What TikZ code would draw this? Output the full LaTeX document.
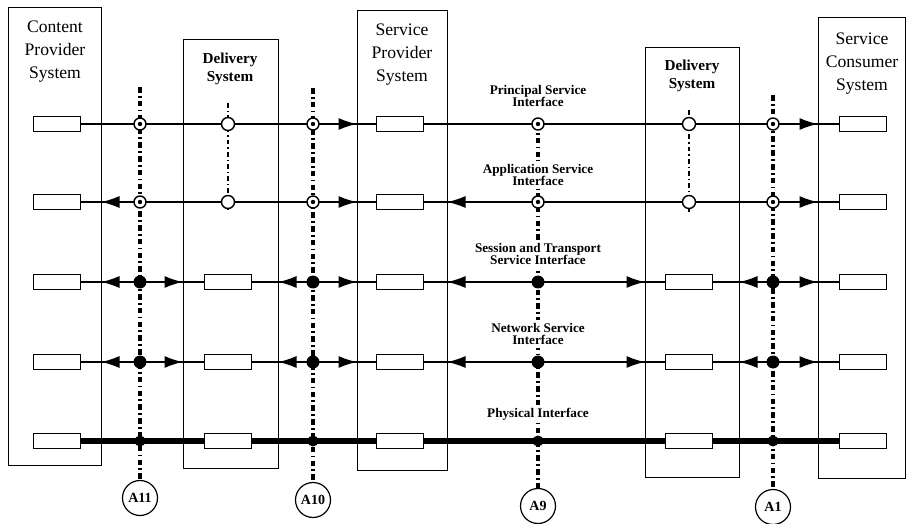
\documentclass[tikz,border=0pt]{standalone}
\usepackage{fontspec}
\setmainfont{Liberation Serif}
\usepackage{tikz}
\usetikzlibrary{arrows.meta}
\pgfdeclarelayer{edgelayer}
\pgfdeclarelayer{nodelayer}
\pgfsetlayers{edgelayer,nodelayer,main}
\tikzset{
  sysbox/.style={draw, line width=0.5pt, inner sep=0pt},
  title/.style={align=center, font=\fontsize{8.8}{11.5}\selectfont},
  dtitle/.style={align=center, font=\bfseries\fontsize{7.6}{9}\selectfont},
  unit/.style={draw, fill=white, line width=0.55pt, minimum width=23.5pt, minimum height=7.5pt, inner sep=0pt},
  sap/.style={circle, draw, fill=white, line width=0.7pt, minimum size=6pt, inner sep=0pt,
    path picture={\fill[black] (path picture bounding box.center) circle (1.1pt);}},
  relay/.style={circle, draw, fill=white, line width=0.7pt, minimum size=6.5pt, inner sep=0pt},
  joint/.style={circle, fill, minimum size=6.5pt, inner sep=0pt},
  phys/.style={circle, fill, minimum size=5.5pt, inner sep=0pt},
  iface/.style={align=center, fill=white, inner sep=1.5pt, font=\bfseries\fontsize{6.6}{6.4}\selectfont},
  tag/.style={circle, draw, line width=0.6pt, minimum size=17.5pt, inner sep=0pt, font=\bfseries\fontsize{7}{8}\selectfont},
  link/.style={line width=0.6pt},
  bus/.style={line width=2.6pt},
  tip/.style={-{Latex[length=9pt,width=6pt]}},
  tips/.style={{Latex[length=9pt,width=6pt]}-{Latex[length=9pt,width=6pt]}},
  aline/.style={line width=1.8pt, dash pattern=on 2.8pt off 1.6pt on 0.9pt off 1.6pt},
  dline/.style={line width=1.1pt, dash pattern=on 2.4pt off 1.5pt on 0.7pt off 1.5pt}
}

\begin{document}
\begin{tikzpicture}[x=0.5pt, y=-0.5pt]
  \useasboundingbox (0,0) rectangle (906,524);
  % nodes
	\node [sysbox, minimum width=46.5pt, minimum height=228.5pt] (0) at (54.5, 236.5) {};
	\node [sysbox, minimum width=47.5pt, minimum height=214pt] (1) at (230.5, 254) {};
	\node [sysbox, minimum width=45pt, minimum height=229.5pt] (2) at (402, 240.5) {};
	\node [sysbox, minimum width=47pt, minimum height=214.5pt] (3) at (692, 262.5) {};
	\node [sysbox, minimum width=43.5pt, minimum height=230pt] (4) at (861.5, 248) {};
	\node [title] (5) at (55, 52) {Content\\Provider\\System};
	\node [dtitle] (6) at (230, 69) {Delivery\\System};
	\node [title] (7) at (402, 55) {Service\\Provider\\System};
	\node [dtitle] (8) at (692, 76) {Delivery\\System};
	\node [title] (9) at (862, 64) {Service\\Consumer\\System};
	%% content provider units
	\node [unit] (10) at (57, 124) {};
	\node [unit] (11) at (57, 202) {};
	\node [unit] (12) at (57, 282) {};
	\node [unit] (13) at (57, 362) {};
	\node [unit] (14) at (57, 441) {};
	%% delivery units
	\node [unit] (15) at (228, 282) {};
	\node [unit] (16) at (228, 362) {};
	\node [unit] (17) at (228, 441) {};
	%% service provider units
	\node [unit] (18) at (400, 124) {};
	\node [unit] (19) at (400, 202) {};
	\node [unit] (20) at (400, 282) {};
	\node [unit] (21) at (400, 362) {};
	\node [unit] (22) at (400, 441) {};
	%% delivery units
	\node [unit] (23) at (689, 282) {};
	\node [unit] (24) at (689, 362) {};
	\node [unit] (25) at (689, 441) {};
	%% service consumer units
	\node [unit] (26) at (863, 124) {};
	\node [unit] (27) at (863, 202) {};
	\node [unit] (28) at (863, 282) {};
	\node [unit] (29) at (863, 362) {};
	\node [unit] (30) at (863, 441) {};
	%% interfaces
	\node [iface] (31) at (538, 96) {Principal Service\\Interface};
	\node [iface] (32) at (538, 175) {Application Service\\Interface};
	\node [iface] (33) at (538, 254) {Session and Transport\\Service Interface};
	\node [iface] (34) at (538, 334) {Network Service\\Interface};
	\node [iface] (35) at (538, 414) {Physical Interface};
	%% reference points
	\node [tag] (36) at (140, 498) {A11};
	\node [tag] (37) at (313, 500) {A10};
	\node [tag] (38) at (538, 506) {A9};
	\node [tag] (39) at (773, 507) {A1};
	\coordinate (40) at (140, 87);
	\coordinate (41) at (313, 88);
	\coordinate (42) at (773, 95);
	\coordinate (43) at (228, 103);
	\coordinate (44) at (689, 110);
	\coordinate (45) at (228, 211);
	\coordinate (46) at (689, 212);
	%% A11
	\node [sap] (50) at (140, 124) {};
	\node [sap] (51) at (140, 202) {};
	\node [joint] (52) at (140, 282) {};
	\node [joint] (53) at (140, 362) {};
	\node [phys] (54) at (140, 441) {};
	%% A10
	\node [sap] (55) at (313, 124) {};
	\node [sap] (56) at (313, 202) {};
	\node [joint] (57) at (313, 282) {};
	\node [joint] (58) at (313, 362) {};
	\node [phys] (59) at (313, 441) {};
	%% A9
	\node [sap] (60) at (538, 124) {};
	\node [sap] (61) at (538, 202) {};
	\node [joint] (62) at (538, 282) {};
	\node [joint] (63) at (538, 362) {};
	\node [phys] (64) at (538, 441) {};
	%% A1
	\node [sap] (65) at (773, 124) {};
	\node [sap] (66) at (773, 202) {};
	\node [joint] (67) at (773, 282) {};
	\node [joint] (68) at (773, 362) {};
	\node [phys] (69) at (773, 441) {};
	%% relays
	\node [relay] (70) at (228, 124) {};
	\node [relay] (71) at (228, 202) {};
	\node [relay] (72) at (689, 124) {};
	\node [relay] (73) at (689, 202) {};
	% edges
	\begin{pgfonlayer}{edgelayer}
	\draw [aline] (40) to (36);
	\draw [aline] (41) to (37);
	\draw [aline] (60.center) to (38);
	\draw [aline] (42) to (39);
	\draw [dline] (43) to (45);
	\draw [dline] (44) to (46);
	%% principal
	\draw [link] (10.center) to (26.center);
	\draw [link, tip] (10) to (2.west |- 10);
	\draw [link, tip] (18) to (4.west |- 18);
	%% application
	\draw [link] (11.center) to (27.center);
	\draw [link, tips] (0.east |- 11) to (2.west |- 19);
	\draw [link, tips] (2.east |- 19) to (4.west |- 27);
	%% session and transport
	\draw [link] (12.center) to (28.center);
	\draw [link, tips] (0.east |- 12) to (1.west |- 15);
	\draw [link, tips] (1.east |- 15) to (2.west |- 20);
	\draw [link, tips] (2.east |- 20) to (3.west |- 23);
	\draw [link, tips] (3.east |- 23) to (4.west |- 28);
	%% network
	\draw [link] (13.center) to (29.center);
	\draw [link, tips] (0.east |- 13) to (1.west |- 16);
	\draw [link, tips] (1.east |- 16) to (2.west |- 21);
	\draw [link, tips] (2.east |- 21) to (3.west |- 24);
	\draw [link, tips] (3.east |- 24) to (4.west |- 29);
	%% physical
	\draw [bus] (14.center) to (30.center);
	\end{pgfonlayer}
\end{tikzpicture}
\end{document}
